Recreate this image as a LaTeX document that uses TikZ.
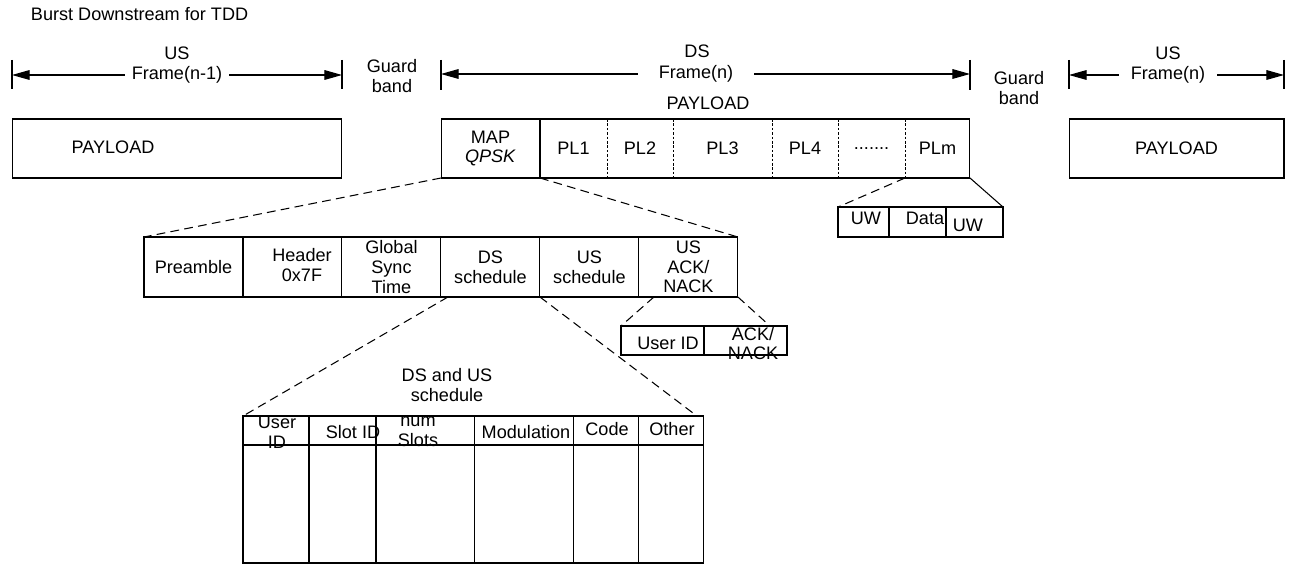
\documentclass[tikz,border=0pt]{standalone}
\usepackage{fontspec}
\setmainfont{Liberation Sans}
\usetikzlibrary{positioning,arrows.meta}

\begin{document}
\begin{tikzpicture}[x=0.02cm,y=-0.02cm,line width=.6pt,font=\fontsize{10.3}{11.2}\selectfont,
  box/.style={draw,inner sep=0pt,outer sep=0pt,align=center},
  cell/.style={box,minimum width=1.98cm,minimum height=1.2cm},
  txt/.style={inner sep=0pt,outer sep=0pt,align=center},
  zoomln/.style={dash pattern=on 5pt off 3pt},
  slot/.style={dash pattern=on 1.5pt off 1pt,line width=.5pt},
  dimarr/.style={-{Triangle[length=10pt,width=5.5pt]}}]
\useasboundingbox (0,0) rectangle (1296,564);
\node[txt,anchor=west] (title) at (31,14) {Burst Downstream for TDD};

% frame lengths
\coordinate (ua) at (12,75); \coordinate (ub) at (342,75);
\coordinate (da) at (441,74); \coordinate (db) at (970,74);
\coordinate (na) at (1069,75); \coordinate (nb) at (1284,75);
\draw(12,60)--(12,89)(342,60)--(342,89);\draw(441,60)--(441,90)(970,60)--(970,90);\draw(1069,60)--(1069,89)(1284,60)--(1284,89);
\node[txt] (usl) at (177,53) {US};\node[txt,inner xsep=.14cm] (usf) at (177,75) {Frame(n-1)};
\node[txt] (dsl) at (697,51) {DS};\node[txt,inner xsep=.42cm] (dsf) at (696,74) {Frame(n)};
\node[txt] (nsl) at (1168,53) {US};\node[txt,inner xsep=.24cm] (nsf) at (1168,75) {Frame(n)};
\draw[dimarr](usf)--(ua);\draw[dimarr](usf)--(ub);
\draw[dimarr](dsf)--(da);\draw[dimarr](dsf)--(db);
\draw[dimarr](nsf)--(na);\draw[dimarr](nsf)--(nb);
\node[txt] (gb1) at (392,76) {Guard\\band};
\node[txt] (gb2) at (1019,88) {Guard\\band};

% payloads
\node[box,minimum width=6.6cm,minimum height=1.18cm] (lpay) at (177,148.5) {};
\node[txt] (lpaytxt) at (113,147) {PAYLOAD};
\node[box,minimum width=4.3cm,minimum height=1.18cm] (rpay) at (1176.5,148.5) {PAYLOAD};
\node[txt] (dspaytxt) at (708,103) {PAYLOAD};
\node[box,minimum width=10.58cm,minimum height=1.18cm] (dspay) at (705.5,148.5) {};
\node[txt,minimum width=1.98cm,minimum height=1.18cm] (map) at (490.5,148.5) {MAP\\\textit{QPSK}};
\foreach \n/\x/\w/\t in {pl1/573.5/1.34/PL1,pl2/640/1.32/PL2,pl3/722.5/1.98/PL3,pl4/805/1.32/PL4,plm/937.5/1.3/PLm}
  \node[txt,minimum width=\w cm,minimum height=1.18cm] (\n) at (\x,148.5) {\t};
\node[txt,minimum width=1.34cm,minimum height=1.18cm] (dots) at (871.5,148.5) {.......};
\draw(map.north east)--(map.south east);
\foreach \n in {pl1,pl2,pl3,pl4,dots} \draw[slot](\n.north east)--(\n.south east);

% MAP fields
\node[cell] (pre) at (193.5,267) {Preamble};
\node[cell,right=0pt of pre] (hdr) {};
\node[txt] (hdrtxt) at (302,265) {Header\\0x7F};
\node[cell,right=0pt of hdr] (gst) {Global\\Sync\\Time};
\node[cell,right=0pt of gst] (dss) {DS\\schedule};
\node[cell,right=0pt of dss] (uss) {US\\schedule};
\node[cell,right=0pt of uss] (ack) {US\\ACK/\\NACK};

% PLm burst
\node[box,minimum width=1.02cm,minimum height=.6cm] (uw1) at (863.5,222) {};
\node[box,minimum width=1.14cm,minimum height=.6cm,right=0pt of uw1] (data) {};
\node[box,minimum width=1.14cm,minimum height=.6cm,right=0pt of data] (uw2) {};
\node[txt] (uw1txt) at (866,218) {UW};\node[txt] (datatxt) at (925,218) {Data};\node[txt] (uw2txt) at (968,225) {UW};

% ACK/NACK fields
\node[box,minimum width=1.66cm,minimum height=.58cm] (uid) at (662.5,340.5) {};
\node[box,minimum width=1.66cm,minimum height=.58cm,right=0pt of uid] (an) {};
\node[txt] (uidtxt) at (668,343) {User ID};\node[txt] (antxt) at (753,343.5) {ACK/\\NACK};

% schedule table
\node[txt] (dsus) at (447,385) {DS and US\\schedule};
\node[box,minimum width=1.32cm,minimum height=.58cm] (h1) at (276,430.5) {};
\node[box,minimum width=1.34cm,minimum height=.58cm,right=0pt of h1] (h2) {};
\node[box,minimum width=1.98cm,minimum height=.58cm,right=0pt of h2] (h3) {};
\node[box,minimum width=1.98cm,minimum height=.58cm,right=0pt of h3] (h4) {};
\node[box,minimum width=1.3cm,minimum height=.58cm,right=0pt of h4] (h5) {};
\node[box,minimum width=1.3cm,minimum height=.58cm,right=0pt of h5] (h6) {};
\foreach \i/\w in {1/1.32,2/1.34,3/1.98,4/1.98,5/1.3,6/1.3}
  \node[box,minimum width=\w cm,minimum height=2.36cm,below=0pt of h\i] (b\i) {};
\node[txt] (t1) at (277,432) {User\\ID};
\node[txt] (t2) at (353,432) {Slot ID};
\node[txt] (t3) at (418,432) {num\\Slots};
\node[txt] (t4) at (526,432) {Modulation};
\node[txt] (t5) at (607,429) {Code};
\node[txt] (t6) at (672,429) {Other};

% zoom lines
\draw[zoomln](map.south west)--(pre.north west);
\draw[zoomln](map.south east)--(ack.north east);
\draw[zoomln](plm.south west)--(uw1.north west);
\draw(plm.south east)--(uw2.north east);
\draw[zoomln]([xshift=.3cm]ack.south west)--(uid.north west);
\draw[zoomln](ack.south east)--([xshift=-.34cm]an.north east);
\draw[zoomln]([xshift=.14cm]dss.south west)--(h1.north west);
\draw[zoomln](dss.south east)--([xshift=-.14cm]h6.north east);
\end{tikzpicture}
\end{document}
